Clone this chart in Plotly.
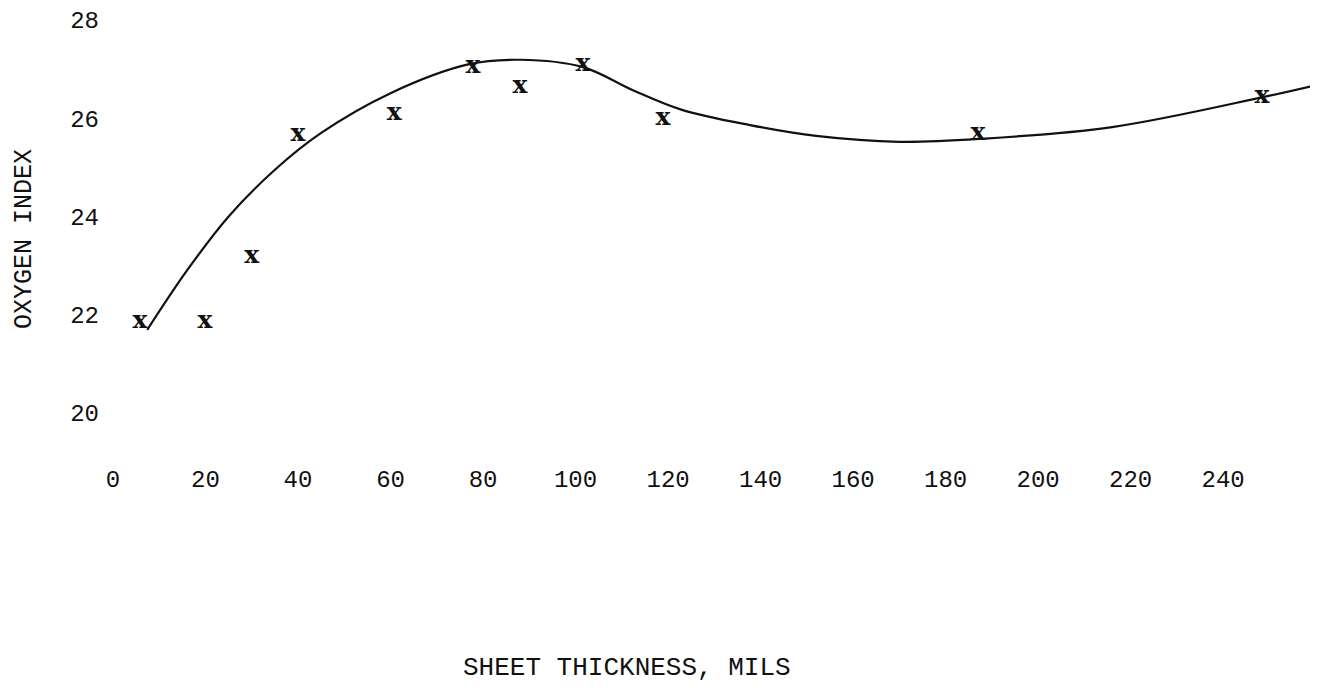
import plotly.graph_objects as go

# Measured data points (sheet thickness in mils, oxygen index)
point_x = [5.8, 19.9, 30.0, 40.0, 60.8, 77.8, 88.0, 101.6, 118.9, 187.0, 248.4]
point_y = [21.85, 21.85, 23.17, 25.66, 26.10, 27.04, 26.64, 27.08, 25.98, 25.68, 26.43]

# Hand-drawn smooth curve
curve_x = [7.4, 16, 25, 35, 45, 60, 77, 88, 101.6, 112.4,
           123, 137.7, 152, 170, 187.5, 216, 248.6, 259.5]
curve_y = [21.69, 22.9, 24.0, 24.95, 25.7, 26.51, 27.1, 27.19, 27.04, 26.57,
           26.17, 25.86, 25.64, 25.52, 25.58, 25.82, 26.43, 26.66]

x_ticks = [0, 20, 40, 60, 80, 100, 120, 140, 160, 180, 200, 220, 240]
y_ticks = [20, 22, 24, 26, 28]

ink = "#111111"
mono = "Liberation Mono, DejaVu Sans Mono, monospace"

fig = go.Figure()
fig.add_trace(go.Scatter(
    x=curve_x, y=curve_y, mode="lines",
    line=dict(color=ink, width=2.2, shape="spline", smoothing=1.0),
    hoverinfo="skip", showlegend=False,
))
fig.add_trace(go.Scatter(
    x=point_x, y=point_y, mode="text", text=["<b>x</b>"] * len(point_x),
    textposition="middle center",
    textfont=dict(family="DejaVu Serif, serif", size=25, color=ink),
    showlegend=False,
))

fig.update_layout(
    width=1318, height=690,
    margin=dict(l=92, r=8, t=0, b=236),
    paper_bgcolor="white", plot_bgcolor="white",
    xaxis=dict(range=[-2.81, 260.5], tickvals=x_ticks, ticktext=[str(v) for v in x_ticks],
               showgrid=False, zeroline=False, showline=False, ticks="",
               tickfont=dict(family=mono, size=24, color=ink)),
    yaxis=dict(range=[19.0, 28.244], tickvals=y_ticks, ticktext=[str(v) for v in y_ticks],
               showgrid=False, zeroline=False, showline=False, ticks="",
               tickfont=dict(family=mono, size=24, color=ink)),
    annotations=[
        dict(text="SHEET THICKNESS, MILS", xref="paper", yref="paper",
             x=0.4327, y=-0.4537, xanchor="center", yanchor="middle", showarrow=False,
             font=dict(family=mono, size=26, color=ink)),
        dict(text="OXYGEN INDEX", xref="paper", yref="paper",
             x=-0.0625, y=0.491, xanchor="center", yanchor="middle", showarrow=False,
             textangle=-90, font=dict(family=mono, size=25, color=ink)),
    ],
)

fig.write_html("out.html")
